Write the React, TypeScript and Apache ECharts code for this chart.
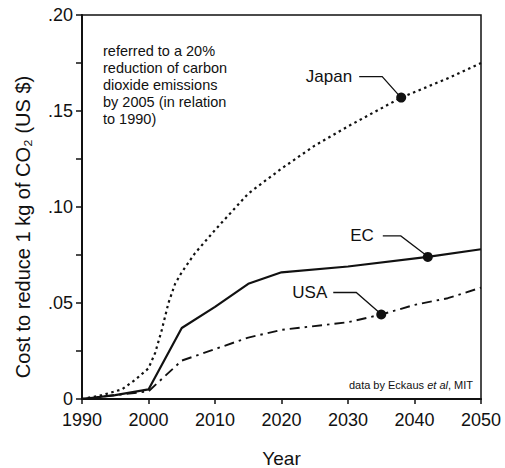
import React, { useEffect, useRef } from "react";
import * as echarts from "echarts";

const japanYears = [1990, 1993, 1996, 1998, 2000, 2001, 2002, 2003, 2004, 2005, 2007, 2010, 2015, 2020, 2025, 2030, 2038, 2045, 2050];
const japanCost = [0, 0.002, 0.005, 0.01, 0.016, 0.024, 0.036, 0.05, 0.06, 0.066, 0.076, 0.088, 0.107, 0.12, 0.132, 0.142, 0.157, 0.167, 0.175];

const ecYears = [1990, 1995, 2000, 2005, 2010, 2015, 2020, 2030, 2042, 2050];
const ecCost = [0, 0.002, 0.005, 0.037, 0.048, 0.06, 0.066, 0.069, 0.074, 0.078];

const usaYears = [1990, 1995, 2000, 2005, 2010, 2015, 2020, 2030, 2035, 2040, 2045, 2050];
const usaCost = [0, 0.002, 0.004, 0.02, 0.026, 0.032, 0.036, 0.04, 0.044, 0.049, 0.0525, 0.058];

const japanMarker = [2038, 0.157];
const ecMarker = [2042, 0.074];
const usaMarker = [2035, 0.044];

const seriesNames = ["Japan", "EC", "USA"];
const xTicks = { min: 1990, max: 2050, interval: 10 };
const yTicks = { min: 0, max: 0.2, interval: 0.05 };

const yAxisTitle = "Cost to reduce 1 kg of CO\u2082 (US $)";
const xAxisTitle = "Year";
const noteLines = [
  "referred to a 20%",
  "reduction of carbon",
  "dioxide emissions",
  "by 2005 (in relation",
  "to 1990)",
];

const FONT = "'Liberation Sans', Arial, Helvetica, sans-serif";

const zip = (xs: number[], ys: number[]) => xs.map((x, i) => [x, ys[i]]);

export default function App() {
  const ref = useRef<HTMLDivElement>(null);
  useEffect(() => {
    if (!ref.current) return;
    const chart = echarts.init(ref.current, null, { renderer: "svg" });
    const markerStyle = (coord: number[]) => ({
      symbol: "circle",
      symbolSize: 10,
      itemStyle: { color: "#111" },
      label: { show: false },
      data: [{ coord }],
    });
    chart.setOption({
      animation: false,
      backgroundColor: "#fff",
      grid: {
        left: 82,
        right: 24,
        top: 15,
        bottom: 69,
        containLabel: false,
        outerBoundsMode: "none",
        show: true,
        borderColor: "#111",
        borderWidth: 1.5,
      },
      xAxis: {
        type: "value",
        min: xTicks.min,
        max: xTicks.max,
        interval: xTicks.interval,
        name: xAxisTitle,
        nameLocation: "middle",
        nameGap: 50,
        nameTextStyle: { fontFamily: FONT, fontSize: 19, color: "#111" },
        axisLine: { lineStyle: { color: "#111", width: 2 } },
        axisTick: { length: 5, lineStyle: { color: "#111", width: 1.5 } },
        axisLabel: {
          fontFamily: FONT,
          fontSize: 18,
          color: "#111",
          margin: 12,
          formatter: (v: number) => String(v),
        },
        splitLine: { show: false },
      },
      yAxis: {
        type: "value",
        min: yTicks.min,
        max: yTicks.max,
        interval: yTicks.interval,
        axisLine: { lineStyle: { color: "#111", width: 2 } },
        axisTick: { length: 6, lineStyle: { color: "#111", width: 1.5 } },
        minorTick: { show: true, splitNumber: 2, length: 6, lineStyle: { color: "#111", width: 1.5 } },
        axisLabel: {
          fontFamily: FONT,
          fontSize: 18,
          color: "#111",
          margin: 9,
          formatter: (v: number) => (v === 0 ? "0" : "." + v.toFixed(2).slice(2)),
        },
        splitLine: { show: false },
      },
      series: [
        {
          name: seriesNames[0],
          type: "line",
          data: zip(japanYears, japanCost),
          showSymbol: false,
          lineStyle: { color: "#111", width: 2.2, type: [2.5, 3.5] },
          markPoint: markerStyle(japanMarker),
        },
        {
          name: seriesNames[1],
          type: "line",
          data: zip(ecYears, ecCost),
          showSymbol: false,
          lineStyle: { color: "#111", width: 2.2 },
          markPoint: markerStyle(ecMarker),
        },
        {
          name: seriesNames[2],
          type: "line",
          data: zip(usaYears, usaCost),
          showSymbol: false,
          lineStyle: { color: "#111", width: 1.9, type: [10, 5, 2.5, 5] },
          markPoint: markerStyle(usaMarker),
        },
      ],
    });

    const px = (c: number[]) => chart.convertToPixel({ gridIndex: 0 }, c) as number[];
    const leader = (name: string, coord: number[], dx1: number, dx2: number, dy: number, tx: number) => {
      const [mx, my] = px(coord);
      return [
        {
          type: "polyline",
          shape: { points: [[mx + dx1, my + dy], [mx + dx2, my + dy], [mx - 2, my - 2]] },
          style: { stroke: "#111", lineWidth: 1.3, fill: "none" },
          z: 10,
        },
        {
          type: "text",
          x: mx + tx,
          y: my + dy,
          style: {
            text: name,
            font: `17px ${FONT}`,
            fill: "#111",
            align: "right",
            verticalAlign: "middle",
          },
          z: 10,
        },
      ];
    };
    const [gx0, gy0] = px([xTicks.min, yTicks.max]);
    const [gx1, gy1] = px([xTicks.max, yTicks.min]);
    chart.setOption({
      graphic: [
        ...leader(seriesNames[0], japanMarker, -42, -19, -21, -49),
        ...leader(seriesNames[1], ecMarker, -45, -27, -21, -54),
        ...leader(seriesNames[2], usaMarker, -48, -25, -22, -54),
        {
          type: "text",
          x: gx0 - 59,
          y: (gy0 + gy1) / 2 + 20,
          rotation: Math.PI / 2,
          style: {
            text: yAxisTitle,
            font: `20px ${FONT}`,
            fill: "#111",
            align: "center",
            verticalAlign: "middle",
          },
        },
        {
          type: "text",
          x: gx0 + 21,
          y: gy0 + 27,
          style: {
            text: noteLines.join("\n"),
            font: `14.5px ${FONT}`,
            lineHeight: 17,
            fill: "#111",
            align: "left",
            verticalAlign: "top",
          },
        },
        {
          type: "text",
          x: gx1 - 8,
          y: gy1 - 14,
          style: {
            text: "data by Eckaus {i|et al}, MIT",
            font: `11px ${FONT}`,
            fill: "#111",
            align: "right",
            verticalAlign: "middle",
            rich: { i: { fontStyle: "italic", fontSize: 11, fontFamily: FONT } },
          },
        },
      ],
    });
    return () => chart.dispose();
  }, []);
  return (
    <div
      ref={ref}
      style={{ position: "fixed", left: 0, top: 0, width: 505, height: 468, background: "#fff" }}
    />
  );
}
